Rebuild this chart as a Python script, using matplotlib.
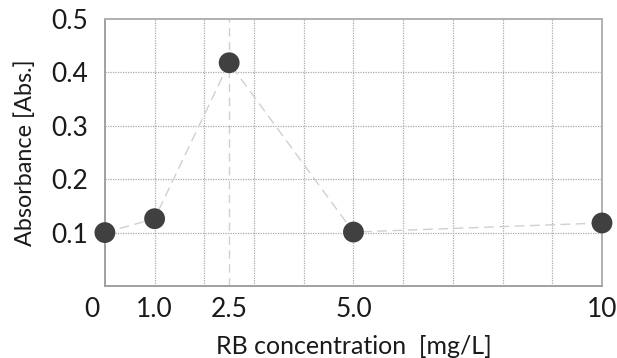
import matplotlib
matplotlib.use("Agg")
import matplotlib.pyplot as plt
import matplotlib.transforms as mtransforms

conc = [0.0, 1.0, 2.5, 5.0, 10.0]
absorb = [0.100, 0.126, 0.418, 0.101, 0.118]
xtick_vals = [0, 1.0, 2.5, 5.0, 10]
xtick_labels = ["0", "1.0", "2.5", "5.0", "10"]
ytick_vals = [0.1, 0.2, 0.3, 0.4, 0.5]
ytick_labels = ["0.1", "0.2", "0.3", "0.4", "0.5"]

plt.rcParams['font.family'] = ['Lato', 'DejaVu Sans']

fig = plt.figure(figsize=(6.17, 3.58), dpi=100)
ax = fig.add_axes([0.170, 0.2011, 0.8057, 0.746])

ax.set_xlim(0, 10)
ax.set_ylim(0, 0.5)

# grid
for gx in range(1, 10):
    ax.axvline(gx, color="#ababab", lw=0.9, ls=(0, (1, 1)), zorder=1)
ax.axvline(2.5, color="#d0d0d0", lw=1.0, ls=(0, (6, 4)), zorder=1)
for gy in [0.1, 0.2, 0.3, 0.4]:
    ax.axhline(gy, color="#ababab", lw=0.9, ls=(0, (1, 1)), zorder=1)

ax.plot(conc, absorb, color="#d0d0d0", lw=1.0, ls=(0, (7, 4)), zorder=2, clip_on=False)
ax.scatter(conc, absorb, s=225, color="#404040", zorder=3, clip_on=False, edgecolors="none")

ax.set_xticks(xtick_vals)
ax.set_xticklabels(xtick_labels)
ax.set_yticks(ytick_vals)
ax.set_yticklabels(ytick_labels)
ax.tick_params(axis="both", length=0, labelsize=19, colors="#1a1a1a")
ax.tick_params(axis="x", pad=8)
ax.tick_params(axis="y", pad=12)

lbl0 = ax.get_xticklabels()[0]
lbl0.set_transform(lbl0.get_transform() + mtransforms.ScaledTranslation(-13/100, 0, fig.dpi_scale_trans))

ax.set_xlabel("RB concentration  [mg/L]", fontsize=18, color="#1a1a1a", labelpad=9)
ax.set_ylabel("Absorbance [Abs.]", fontsize=16.8, color="#1a1a1a", labelpad=11)

for s in ["left", "bottom"]:
    ax.spines[s].set_color("#a0a0a0")
    ax.spines[s].set_linewidth(1.4)
for s in ["top", "right"]:
    ax.spines[s].set_color("#b0b0b0")
    ax.spines[s].set_linewidth(1.4)

fig.savefig("out.png", dpi=100)
